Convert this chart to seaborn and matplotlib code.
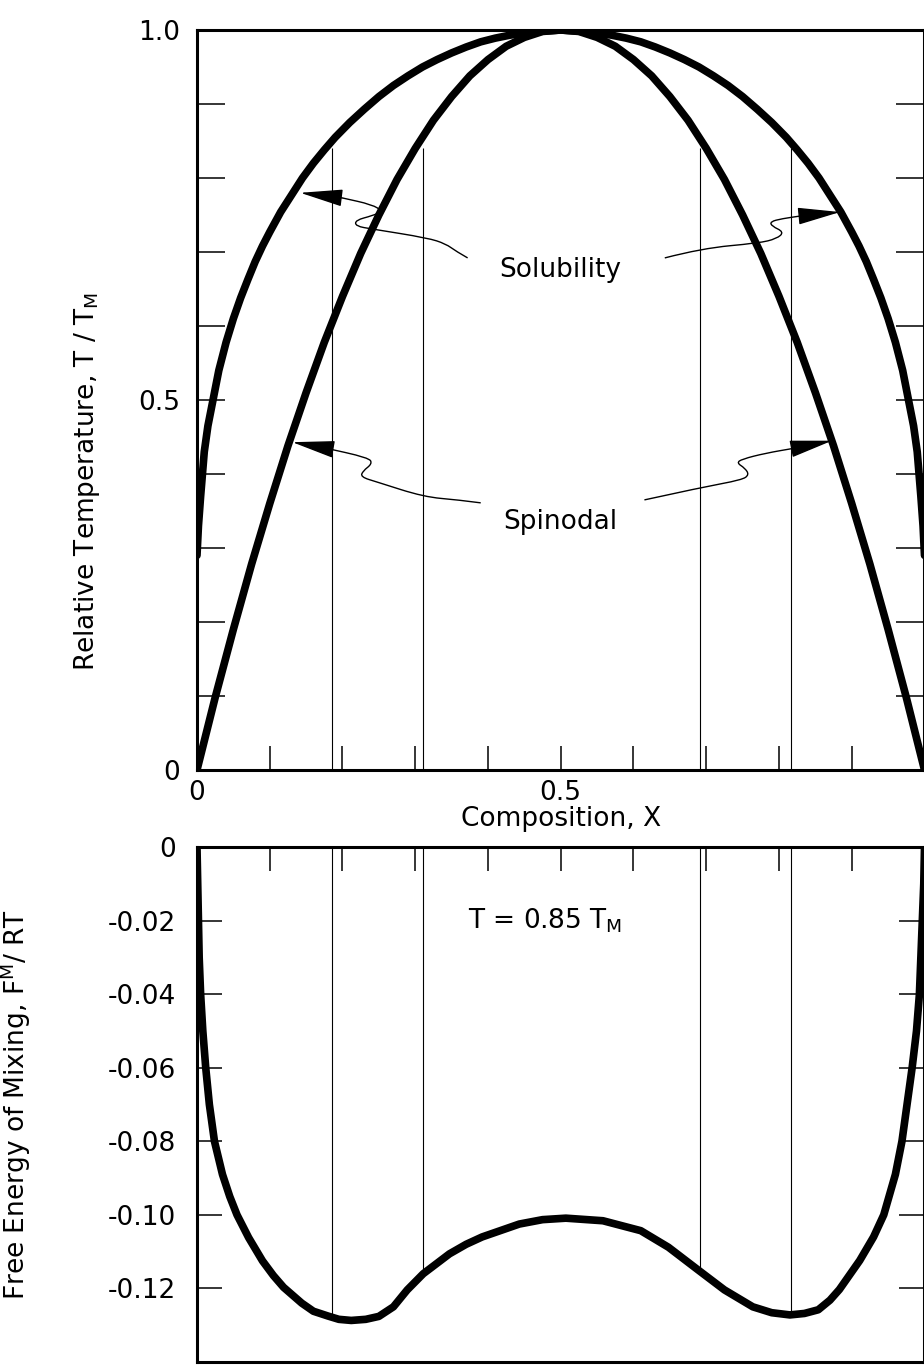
import matplotlib.pyplot as plt
from matplotlib.path import Path
from matplotlib.patches import PathPatch
import pandas as pd
import seaborn as sns

# upper panel: composition X against relative temperature T/TM
sol_x = [0.0, 0.002, 0.005, 0.01, 0.015, 0.02, 0.03, 0.04, 0.05, 0.06, 0.07, 0.08, 0.09, 0.10,
         0.115, 0.13, 0.145, 0.16, 0.175, 0.19, 0.21, 0.23, 0.25, 0.27, 0.29, 0.31, 0.33, 0.35,
         0.37, 0.39, 0.41, 0.43, 0.45, 0.47, 0.50,
         0.53, 0.55, 0.57, 0.59, 0.61, 0.63, 0.65, 0.67, 0.69, 0.71, 0.73, 0.75, 0.77, 0.79,
         0.81, 0.825, 0.84, 0.855, 0.87, 0.885, 0.90, 0.91, 0.92, 0.93, 0.94, 0.95, 0.96, 0.97,
         0.98, 0.985, 0.99, 0.995, 0.998, 1.0]
sol_t = [0.29, 0.33, 0.37, 0.43, 0.465, 0.49, 0.54, 0.578, 0.61, 0.638, 0.663, 0.687, 0.708, 0.727,
         0.754, 0.777, 0.80, 0.82, 0.838, 0.855, 0.875, 0.893, 0.91, 0.925, 0.938, 0.95, 0.96, 0.969,
         0.977, 0.984, 0.989, 0.993, 0.996, 0.998, 1.0,
         0.998, 0.996, 0.993, 0.989, 0.984, 0.977, 0.969, 0.96, 0.95, 0.938, 0.925, 0.91, 0.893, 0.875,
         0.855, 0.838, 0.82, 0.80, 0.777, 0.754, 0.727, 0.708, 0.687, 0.663, 0.638, 0.61, 0.578, 0.54,
         0.49, 0.465, 0.43, 0.37, 0.33, 0.29]
spi_x = [0.0, 0.025, 0.05, 0.075, 0.1, 0.125, 0.15, 0.175, 0.2, 0.225, 0.25, 0.275, 0.3, 0.325,
         0.35, 0.375, 0.4, 0.425, 0.45, 0.475, 0.5, 0.525, 0.55, 0.575, 0.6, 0.625, 0.65, 0.675,
         0.7, 0.725, 0.75, 0.775, 0.8, 0.825, 0.85, 0.875, 0.9, 0.925, 0.95, 0.975, 1.0]
spi_t = [0.0, 0.098, 0.19, 0.278, 0.36, 0.438, 0.51, 0.578, 0.64, 0.698, 0.75, 0.798, 0.84, 0.878,
         0.91, 0.938, 0.96, 0.978, 0.99, 0.998, 1.0, 0.998, 0.99, 0.978, 0.96, 0.938, 0.91, 0.878,
         0.84, 0.798, 0.75, 0.698, 0.64, 0.578, 0.51, 0.438, 0.36, 0.278, 0.19, 0.098, 0.0]

# lower panel: free energy of mixing at T = 0.85 TM
fe_x = [0.0, 0.001, 0.002, 0.003, 0.005, 0.008, 0.012, 0.017, 0.024, 0.035, 0.045, 0.055, 0.071,
        0.09, 0.105, 0.119, 0.144, 0.16, 0.18, 0.195, 0.212, 0.232, 0.25, 0.27, 0.289, 0.311,
        0.347, 0.37, 0.392, 0.443, 0.475, 0.507, 0.558, 0.61, 0.648, 0.689, 0.725, 0.764, 0.79, 0.815,
        0.835, 0.854, 0.87, 0.883, 0.911, 0.93, 0.944, 0.96, 0.969, 0.976, 0.983, 0.989, 0.993,
        0.995, 0.997, 0.999, 1.0]
fe_f = [0.0, -0.01, -0.02, -0.03, -0.04, -0.05, -0.06, -0.07, -0.08, -0.089, -0.095, -0.10, -0.1062,
        -0.1125, -0.1165, -0.1197, -0.124, -0.1262, -0.1275, -0.1284, -0.1287, -0.1284, -0.1276, -0.125,
        -0.1204, -0.116, -0.1106, -0.108, -0.106, -0.1025, -0.1013, -0.1009, -0.1016, -0.1043, -0.1088,
        -0.115, -0.1204, -0.125, -0.1266, -0.1272, -0.1268, -0.1258, -0.1232, -0.1203, -0.1124, -0.106,
        -0.10, -0.089, -0.08, -0.07, -0.06, -0.05, -0.04, -0.03, -0.02, -0.01, 0.0]

# thin guide lines at the solubility / spinodal compositions for 0.85 TM
guide_x = [0.185, 0.311, 0.691, 0.817]
guide_top = 0.84
guide_f = [-0.1278, -0.116, -0.1152, -0.1272]

xticks = [0, 0.1, 0.2, 0.3, 0.4, 0.5, 0.6, 0.7, 0.8, 0.9, 1.0]
top_xlabels = ["0", "", "", "", "", "0.5", "", "", "", "", ""]
top_yticks = [0, 0.1, 0.2, 0.3, 0.4, 0.5, 0.6, 0.7, 0.8, 0.9, 1.0]
top_ylabels = ["0", "", "", "", "", "0.5", "", "", "", "", "1.0"]
bot_yticks = [0, -0.02, -0.04, -0.06, -0.08, -0.10, -0.12, -0.14]
bot_ylabels = ["0", "-0.02", "-0.04", "-0.06", "-0.08", "-0.10", "-0.12", ""]

# leader lines (with their little squiggles) from the labels to the curves
lead_sol_l = ([0.372, 0.356, 0.342, 0.317, 0.241, 0.218, 0.218, 0.241, 0.255, 0.241, 0.200, 0.142],
              [0.692, 0.701, 0.711, 0.719, 0.731, 0.735, 0.743, 0.749, 0.755, 0.764, 0.773, 0.780])
lead_sol_r = ([0.643, 0.694, 0.772, 0.797, 0.807, 0.790, 0.788, 0.804, 0.832, 0.884],
              [0.692, 0.705, 0.712, 0.718, 0.727, 0.735, 0.741, 0.745, 0.749, 0.754])
lead_spi_l = ([0.390, 0.359, 0.312, 0.248, 0.225, 0.228, 0.241, 0.236, 0.172, 0.131],
              [0.361, 0.365, 0.369, 0.389, 0.396, 0.404, 0.414, 0.422, 0.436, 0.443])
lead_spi_r = ([0.615, 0.694, 0.749, 0.759, 0.753, 0.742, 0.749, 0.781, 0.822, 0.873],
              [0.365, 0.382, 0.392, 0.399, 0.408, 0.415, 0.420, 0.428, 0.435, 0.445])

sns.set_style("ticks")
plt.rcParams["font.family"] = ["DejaVu Sans"]
plt.rcParams["mathtext.default"] = "regular"
for key in ("text.color", "axes.labelcolor", "xtick.color", "ytick.color", "axes.edgecolor"):
    plt.rcParams[key] = "black"


def leader(ax, xs, ys):
    # smooth quadratic path through the hand-drawn leader, arrow on the last bit
    verts = [(xs[0], ys[0])]
    codes = [Path.MOVETO]
    for i in range(1, len(xs) - 2):
        verts += [(xs[i], ys[i]), ((xs[i] + xs[i + 1]) / 2, (ys[i] + ys[i + 1]) / 2)]
        codes += [Path.CURVE3, Path.CURVE3]
    verts.append((xs[-2], ys[-2]))
    codes.append(Path.LINETO)
    ax.add_patch(PathPatch(Path(verts, codes), fill=False, color="k", lw=1.0))
    ax.annotate("", xy=(xs[-1], ys[-1]), xytext=(xs[-2], ys[-2]),
                arrowprops=dict(arrowstyle="-|>,head_length=1.5,head_width=0.3",
                                color="k", lw=1.0, shrinkA=0, shrinkB=0, mutation_scale=18))


fig = plt.figure(figsize=(9.24, 13.69), dpi=100)
axa = fig.add_axes([0.2132, 0.43755, 0.78734, 0.54054])
axb = fig.add_axes([0.2132, 0.00511, 0.78734, 0.37619])

sol = pd.DataFrame({"x": sol_x, "t": sol_t})
spi = pd.DataFrame({"x": spi_x, "t": spi_t})
fe = pd.DataFrame({"x": fe_x, "f": fe_f})

sns.lineplot(data=sol, x="x", y="t", sort=False, estimator=None, color="k", lw=5.5, ax=axa)
sns.lineplot(data=spi, x="x", y="t", sort=False, estimator=None, color="k", lw=5.5, ax=axa)
axa.vlines(guide_x, 0, guide_top, color="k", lw=0.8)

for lx, ly in (lead_sol_l, lead_sol_r, lead_spi_l, lead_spi_r):
    leader(axa, lx, ly)

axa.text(0.5, 0.676, "Solubility", fontsize=19, ha="center", va="center")
axa.text(0.5, 0.335, "Spinodal", fontsize=19, ha="center", va="center")

axa.set_xlim(0, 1)
axa.set_ylim(0, 1)
axa.set_xticks(xticks)
axa.set_xticklabels(top_xlabels)
axa.set_yticks(top_yticks)
axa.set_yticklabels(top_ylabels)
axa.tick_params(axis="x", direction="in", length=17, width=1.1, top=False, bottom=True,
                labelsize=19, pad=7)
axa.tick_params(axis="y", direction="in", length=20, width=1.1, left=True, right=True,
                labelsize=19, pad=12)
axa.set_xlabel("Composition, X", fontsize=19, labelpad=0)
axa.set_ylabel("Relative Temperature, T / T$_M$", fontsize=19)
axa.yaxis.set_label_coords(-0.131, 0.39)

sns.lineplot(data=fe, x="x", y="f", sort=False, estimator=None, color="k", lw=5.5, ax=axb)
axb.vlines(guide_x, guide_f, 0, color="k", lw=0.8)
axb.text(0.373, -0.02, "T = 0.85 T$_M$", fontsize=19, ha="left", va="center")

axb.set_xlim(0, 1)
axb.set_ylim(-0.14, 0)
axb.set_xticks(xticks)
axb.set_xticklabels([])
axb.set_yticks(bot_yticks)
axb.set_yticklabels(bot_ylabels)
axb.tick_params(axis="x", direction="in", length=17, width=1.1, top=True, bottom=False,
                labeltop=False, labelbottom=False)
axb.tick_params(axis="y", direction="in", length=18, width=1.1, left=True, right=True,
                labelsize=19, pad=15)
axb.set_xlabel("")
axb.set_ylabel("Free Energy of Mixing, F$^M$/ RT", fontsize=19)
axb.yaxis.set_label_coords(-0.226, 0.5)

for ax in (axa, axb):
    for s in ax.spines.values():
        s.set_linewidth(2.2)
        s.set_color("k")

plt.savefig("out.png", dpi=100)
